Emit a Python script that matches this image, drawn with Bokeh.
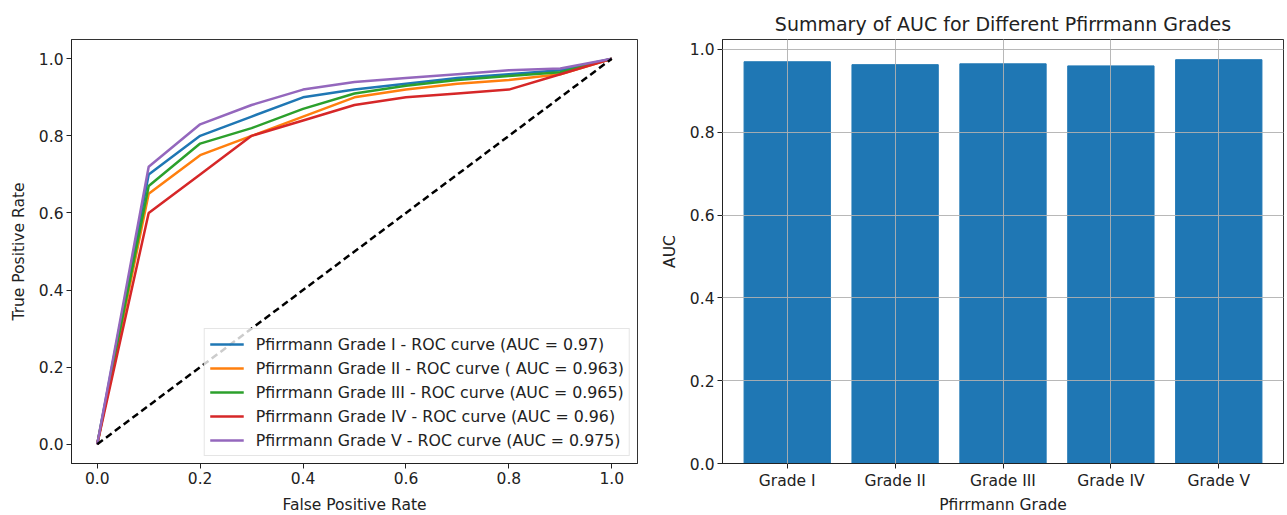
from bokeh.plotting import figure
from bokeh.layouts import row
from bokeh.models import FixedTicker, PrintfTickFormatter, Legend, LegendItem, ColumnDataSource
from bokeh.embed import file_html
from bokeh.resources import INLINE

# ---- data ----
fpr = [0.0, 0.1, 0.2, 0.3, 0.4, 0.5, 0.6, 0.7, 0.8, 0.9, 1.0]
tpr_grade1 = [0.0, 0.70, 0.80, 0.85, 0.90, 0.92, 0.935, 0.95, 0.96, 0.97, 1.0]
tpr_grade2 = [0.0, 0.65, 0.75, 0.80, 0.85, 0.90, 0.92, 0.935, 0.945, 0.96, 1.0]
tpr_grade3 = [0.0, 0.67, 0.78, 0.82, 0.87, 0.91, 0.93, 0.945, 0.955, 0.965, 1.0]
tpr_grade4 = [0.0, 0.60, 0.70, 0.80, 0.84, 0.88, 0.90, 0.91, 0.92, 0.96, 1.0]
tpr_grade5 = [0.0, 0.72, 0.83, 0.88, 0.92, 0.94, 0.95, 0.96, 0.97, 0.975, 1.0]
legend_labels = [
    "Pfirrmann Grade I - ROC curve (AUC = 0.97)",
    "Pfirrmann Grade II - ROC curve ( AUC = 0.963)",
    "Pfirrmann Grade III - ROC curve (AUC = 0.965)",
    "Pfirrmann Grade IV - ROC curve (AUC = 0.96)",
    "Pfirrmann Grade V - ROC curve (AUC = 0.975)",
]
diag_x = [0.0, 1.0]
diag_y = [0.0, 1.0]

grades = ["Grade I", "Grade II", "Grade III", "Grade IV", "Grade V"]
auc_values = [0.97, 0.963, 0.965, 0.96, 0.975]

colors = ["#1f77b4", "#ff7f0e", "#2ca02c", "#d62728", "#9467bd"]
FONT = "DejaVu Sans"
TICK_SIZE = "15.5px"
LABEL_SIZE = "15.5px"


def style(p):
    p.outline_line_color = "black"
    p.outline_line_width = 1
    p.outline_line_alpha = 0.8
    for ax in (p.xaxis[0], p.yaxis[0]):
        ax.major_label_text_font = FONT
        ax.major_label_text_font_size = TICK_SIZE
        ax.major_label_text_color = "#222222"
        ax.axis_label_text_font = FONT
        ax.axis_label_text_font_size = LABEL_SIZE
        ax.axis_label_text_font_style = "normal"
        ax.axis_label_text_color = "#222222"
        ax.minor_tick_line_color = None
        ax.major_tick_in = 0
        ax.major_tick_out = 5
        ax.major_tick_line_color = "#222222"
        ax.axis_line_color = "#222222"
        ax.axis_label_standoff = 8
        ax.major_label_standoff = 3


# ---- left: ROC curves ----
p1 = figure(frame_width=566, frame_height=424, x_range=(-0.05, 1.05), y_range=(-0.05, 1.05),
            output_backend="svg", toolbar_location=None,
            min_border_left=71, min_border_right=20, min_border_top=39, min_border_bottom=51)
style(p1)
p1.xaxis.axis_label_standoff = 9
p1.xgrid.visible = False
p1.ygrid.visible = False
ticks = [0.0, 0.2, 0.4, 0.6, 0.8, 1.0]
p1.xaxis.ticker = FixedTicker(ticks=ticks)
p1.yaxis.ticker = FixedTicker(ticks=ticks)
p1.xaxis.formatter = PrintfTickFormatter(format="%.1f")
p1.yaxis.formatter = PrintfTickFormatter(format="%.1f")
p1.xaxis.axis_label = "False Positive Rate"
p1.yaxis.axis_label = "True Positive Rate"

series = [tpr_grade1, tpr_grade2, tpr_grade3, tpr_grade4, tpr_grade5]
items = []
for ys, c, lab in zip(series, colors, legend_labels):
    r = p1.line(fpr, ys, line_color=c, line_width=2.5)
    items.append(LegendItem(label=lab, renderers=[r]))
p1.line(diag_x, diag_y, line_color="black", line_width=2.5, line_dash="7 4")

legend = Legend(items=items, location="bottom_right")
legend.label_text_font = FONT
legend.label_text_font_size = "15.8px"
legend.label_text_color = "#222222"
legend.glyph_width = 34
legend.glyph_height = 20
legend.label_height = 20
legend.label_standoff = 12
legend.spacing = 4
legend.padding = 5
legend.margin = 7
legend.border_line_color = "#cccccc"
legend.border_line_width = 1
legend.background_fill_alpha = 0.8
p1.add_layout(legend)

# ---- right: AUC bars ----
xs = list(range(len(grades)))
src = ColumnDataSource(dict(x=xs, top=auc_values))
p2 = figure(frame_width=561, frame_height=424, x_range=(-0.6, 4.6), y_range=(0, 1.02375),
            output_backend="svg", toolbar_location=None,
            title="Summary of AUC for Different Pfirrmann Grades",
            min_border_left=62, min_border_right=1, min_border_top=39, min_border_bottom=51)
style(p2)
p2.xaxis.axis_label_standoff = 3
p2.title.align = "center"
p2.title.text_font = FONT
p2.title.text_font_size = "19px"
p2.title.text_font_style = "normal"
p2.title.text_color = "#222222"
p2.title.standoff = 9
p2.vbar(x="x", top="top", width=0.8, bottom=0, source=src, fill_color="#1f77b4", line_color="#1f77b4")
p2.xaxis.ticker = FixedTicker(ticks=xs)
p2.xaxis.major_label_overrides = {i: g for i, g in zip(xs, grades)}
p2.yaxis.ticker = FixedTicker(ticks=ticks)
p2.yaxis.formatter = PrintfTickFormatter(format="%.1f")
p2.xaxis.axis_label = "Pfirrmann Grade"
p2.yaxis.axis_label = "AUC"
for g in (p2.xgrid[0], p2.ygrid[0]):
    g.level = "overlay"
    g.grid_line_color = "#b0b0b0"
    g.grid_line_width = 1
    g.grid_line_alpha = 0.9
p2.xgrid.ticker = FixedTicker(ticks=xs)
p2.ygrid.ticker = FixedTicker(ticks=ticks)

layout = row(p1, p2)
open("out.html", "w").write(file_html(layout, INLINE))
